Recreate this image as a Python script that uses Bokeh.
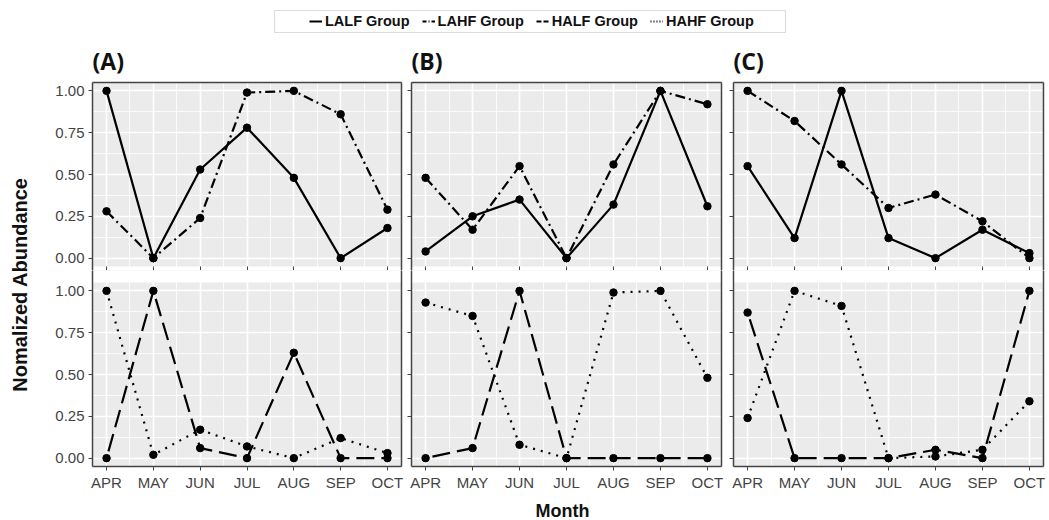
import math
from bokeh.plotting import figure
from bokeh.models import (Range1d, FixedTicker, PrintfTickFormatter, LinearAxis,
                          BoxAnnotation, Legend, LegendItem, ColumnDataSource,
                          CustomLabelingPolicy)
from bokeh.layouts import row, column
from bokeh.core.properties import value
from bokeh.embed import file_html
from bokeh.resources import INLINE

# ---------------- data ----------------
months = ["APR", "MAY", "JUN", "JUL", "AUG", "SEP", "OCT"]
panel_titles = ["(A)", "(B)", "(C)"]
groups = ["LALF Group", "LAHF Group", "HALF Group", "HAHF Group"]
y_ticks = [0.0, 0.25, 0.5, 0.75, 1.0]

a_lalf = [1.00, 0.00, 0.53, 0.78, 0.48, 0.00, 0.18]
a_lahf = [0.28, 0.00, 0.24, 0.99, 1.00, 0.86, 0.29]
a_half = [0.00, 1.00, 0.06, 0.00, 0.63, 0.00, 0.00]
a_hahf = [1.00, 0.02, 0.17, 0.07, 0.00, 0.12, 0.03]

b_lalf = [0.04, 0.25, 0.35, 0.00, 0.32, 1.00, 0.31]
b_lahf = [0.48, 0.17, 0.55, 0.00, 0.56, 1.00, 0.92]
b_half = [0.00, 0.06, 1.00, 0.00, 0.00, 0.00, 0.00]
b_hahf = [0.93, 0.85, 0.08, 0.00, 0.99, 1.00, 0.48]

c_lalf = [0.55, 0.12, 1.00, 0.12, 0.00, 0.17, 0.03]
c_lahf = [1.00, 0.82, 0.56, 0.30, 0.38, 0.22, 0.00]
c_half = [0.87, 0.00, 0.00, 0.00, 0.05, 0.00, 1.00]
c_hahf = [0.24, 1.00, 0.91, 0.00, 0.01, 0.05, 0.34]

panels = [
    {"LALF Group": a_lalf, "LAHF Group": a_lahf, "HALF Group": a_half, "HAHF Group": a_hahf},
    {"LALF Group": b_lalf, "LAHF Group": b_lahf, "HALF Group": b_half, "HAHF Group": b_hahf},
    {"LALF Group": c_lalf, "LAHF Group": c_lahf, "HALF Group": c_half, "HAHF Group": c_hahf},
]

# ---------------- styles ----------------
dash = {"LALF Group": "solid", "LAHF Group": "10 4 2 4",
        "HALF Group": "18 7", "HAHF Group": "2 6"}
dash_offset = {"LALF Group": 0, "LAHF Group": 0, "HALF Group": 18, "HAHF Group": 0}
legend_dash = {"LALF Group": "solid", "LAHF Group": "4 2 1 2",
               "HALF Group": "5 2", "HAHF Group": "1 2"}
BORDER = "#444444"
TICKTXT = "#444444"
PANEL_BG = "#EBEBEB"
TICK_FONT = "Liberation Sans"

# ---------------- layout constants (pixels) ----------------
W, H = 1049, 520
TOP_H = 79
LEFT_W = 38
col_left = [38, 406, 727]
col_right = [406, 727, 1049]
frame_l = [92, 411, 733]
frame_r = [401, 721, 1043]
UP_TOP, UP_FRAME_TOP, UP_FACET_BOT, SPLIT = TOP_H, 82, 266, 270
LO_FACET_TOP, LO_FRAME_BOT, LO_BOT = 282, 466, 496
px_per = (UP_FACET_BOT - UP_FRAME_TOP) / 1.1

x_ticks = list(range(len(months)))
x_minor = [i + 0.5 for i in range(len(months) - 1)]
y_minor = [0.125, 0.375, 0.625, 0.875]

NO_LABELS = """
for (const i of indices) {
    indices.unset(i)
}
return indices
"""


def hide_labels(ax):
    ax.major_label_policy = CustomLabelingPolicy(code=NO_LABELS)
    ax.major_label_text_font_size = "0px"
    ax.major_label_standoff = 0


def blank_axis(ax):
    ax.ticker = FixedTicker(ticks=[])
    ax.major_tick_out = 0
    ax.major_tick_in = 0
    ax.minor_tick_out = 0
    ax.minor_tick_in = 0
    ax.major_label_text_font_size = "0px"
    ax.major_label_standoff = 0
    ax.axis_line_color = BORDER
    ax.axis_line_width = 1.5


def make_fig(ci, upper):
    fw = col_right[ci] - col_left[ci]
    if upper:
        h = SPLIT - UP_TOP
        mt, mb = UP_FRAME_TOP - UP_TOP, 0
        yr = Range1d(-0.05 - (SPLIT - UP_FACET_BOT) / px_per, 1.05)
    else:
        h = LO_BOT - SPLIT
        mt, mb = 0, LO_BOT - LO_FRAME_BOT
        yr = Range1d(-0.05, 1.05 + (LO_FACET_TOP - SPLIT) / px_per)
    p = figure(width=fw, height=h, x_range=Range1d(-0.3, 6.3), y_range=yr,
               output_backend="svg", toolbar_location=None,
               min_border_left=frame_l[ci] - col_left[ci],
               min_border_right=col_right[ci] - frame_r[ci],
               min_border_top=mt, min_border_bottom=mb)
    p.background_fill_color = PANEL_BG
    p.border_fill_color = "white"
    p.outline_line_color = None

    # grids
    p.xgrid.ticker = FixedTicker(ticks=x_ticks, minor_ticks=x_minor)
    p.ygrid.ticker = FixedTicker(ticks=y_ticks, minor_ticks=y_minor)
    for g in (p.xgrid, p.ygrid):
        g.grid_line_color = "white"
        g.grid_line_width = 1.6
        g.minor_grid_line_color = "white"
        g.minor_grid_line_width = 0.8

    # y axis (left)
    ya = p.yaxis[0]
    ya.ticker = FixedTicker(ticks=y_ticks)
    ya.formatter = PrintfTickFormatter(format="%.2f")
    ya.axis_line_color = BORDER
    ya.axis_line_width = 1.5
    ya.major_tick_line_color = BORDER
    ya.major_tick_out = 4
    ya.major_tick_in = 0
    ya.minor_tick_out = 0
    ya.minor_tick_in = 0
    if ci == 0:
        ya.major_label_text_font = TICK_FONT
        ya.major_label_text_font_size = "15px"
        ya.major_label_text_color = TICKTXT
        ya.major_label_standoff = 4
    else:
        hide_labels(ya)

    # x axis (below)
    xa = p.xaxis[0]
    xa.ticker = FixedTicker(ticks=x_ticks)
    xa.major_tick_line_color = BORDER
    xa.minor_tick_out = 0
    xa.minor_tick_in = 0
    if upper:
        xa.axis_line_color = None
        xa.major_tick_out = 0
        xa.major_tick_in = 4
        hide_labels(xa)
    else:
        xa.axis_line_color = BORDER
        xa.axis_line_width = 1.5
        xa.major_tick_out = 4
        xa.major_tick_in = 0
        xa.major_label_overrides = {i: m for i, m in enumerate(months)}
        xa.major_label_text_font = TICK_FONT
        xa.major_label_text_font_size = "15px"
        xa.major_label_text_color = TICKTXT
        xa.major_label_standoff = 3

    # border on the right (and top for the upper facet)
    ra = LinearAxis()
    blank_axis(ra)
    p.add_layout(ra, "right")
    if upper:
        ta = LinearAxis()
        blank_axis(ta)
        p.add_layout(ta, "above")
        band = BoxAnnotation(bottom=yr.start, top=-0.05, fill_color="white",
                             fill_alpha=1.0, line_color=None, level="glyph")
    else:
        band = BoxAnnotation(bottom=1.05, top=yr.end, fill_color="white",
                             fill_alpha=1.0, line_color=None, level="glyph")
    p.add_layout(band)

    data = panels[ci]
    keys = ["LALF Group", "LAHF Group"] if upper else ["HALF Group", "HAHF Group"]
    for k in keys:
        src = ColumnDataSource(dict(x=x_ticks, y=data[k]))
        p.line("x", "y", source=src, line_color="black", line_width=2.2,
               line_dash=dash[k], line_dash_offset=dash_offset[k], line_join="round")
    for k in keys:
        src = ColumnDataSource(dict(x=x_ticks, y=data[k]))
        p.scatter("x", "y", source=src, size=7.5, color="black")
    return p


cols = []
for ci in range(3):
    cols.append(column(make_fig(ci, True), make_fig(ci, False), spacing=0))

# ---------------- top strip: legend + panel titles ----------------
top = figure(width=W, height=TOP_H, x_range=Range1d(0, W), y_range=Range1d(TOP_H, 0),
             output_backend="svg", toolbar_location=None,
             x_axis_location=None, y_axis_location=None, min_border=0)
top.grid.visible = False
top.outline_line_color = None
top.background_fill_color = "white"
top.border_fill_color = "white"
top.add_layout(BoxAnnotation(left=274, right=785, top=10, bottom=32, fill_color="white",
                             fill_alpha=1.0, line_color="#8a8a8a", line_width=1.2,
                             level="underlay"))
items = []
for g in groups:
    # legend key renderers: placed off-canvas, only their style is shown in the key
    r = top.line(x=[-100, -90], y=[-100, -100], line_color="black", line_width=2,
                 line_dash=legend_dash[g])
    items.append(LegendItem(label=g, renderers=[r]))
leg = Legend(items=items, orientation="horizontal", location=(309, TOP_H - 29),
             border_line_color=None, background_fill_alpha=0,
             label_text_font=TICK_FONT, label_text_font_style="bold",
             label_text_font_size="14.5px", label_text_color="#111111",
             glyph_width=13, glyph_height=14, label_standoff=3, spacing=12,
             padding=0, margin=0)
top.add_layout(leg)
top.text(x=frame_l, y=[60, 60, 60], text=panel_titles, text_font=value("Open Sans"),
         text_font_style="bold", text_font_size="23px", text_color="#111111",
         text_align="left", text_baseline="middle")

# ---------------- left strip: y label ----------------
left = figure(width=LEFT_W, height=LO_BOT - UP_TOP, x_range=Range1d(0, LEFT_W),
              y_range=Range1d(LO_BOT, UP_TOP), output_backend="svg", toolbar_location=None,
              x_axis_location=None, y_axis_location=None, min_border=0)
left.grid.visible = False
left.outline_line_color = None
left.text(x=[19], y=[284], text=["Nomalized Abundance"], angle=math.pi / 2,
          text_font=value(TICK_FONT), text_font_style="bold", text_font_size="20px",
          text_color="#111111", text_align="center", text_baseline="middle")

# ---------------- bottom strip: x label ----------------
bottom = figure(width=W, height=H - LO_BOT, x_range=Range1d(0, W), y_range=Range1d(H, LO_BOT),
                output_backend="svg", toolbar_location=None,
                x_axis_location=None, y_axis_location=None, min_border=0)
bottom.grid.visible = False
bottom.outline_line_color = None
bottom.text(x=[562], y=[510], text=["Month"], text_font=value(TICK_FONT),
            text_font_style="bold", text_font_size="18px", text_color="#111111",
            text_align="center", text_baseline="middle")

layout = column(top, row(left, *cols, spacing=0), bottom, spacing=0)
open("out.html", "w").write(file_html(layout, INLINE))
